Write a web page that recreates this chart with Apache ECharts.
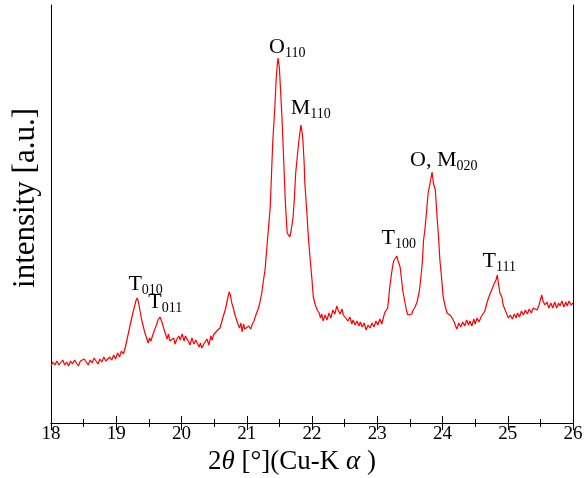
<!DOCTYPE html>
<html>
<head>
<meta charset="utf-8">
<script src="https://cdn.jsdelivr.net/npm/echarts@6/dist/echarts.min.js"></script>
<style>
  html, body { margin: 0; padding: 0; background: #fff; }
  #chart { width: 586px; height: 478px; }
</style>
</head>
<body>
<div id="chart"></div>
<script>
// 2theta [deg] and intensity [a.u.]
var twoTheta = [
  18.00, 18.03, 18.06, 18.09, 18.12, 18.15, 18.18, 18.21, 18.24, 18.27,
  18.30, 18.33, 18.36, 18.39, 18.42, 18.45, 18.48, 18.51, 18.54, 18.57,
  18.60, 18.63, 18.66, 18.69, 18.72, 18.75, 18.78, 18.81, 18.84, 18.87,
  18.90, 18.93, 18.96, 18.99, 19.02, 19.05, 19.08, 19.11, 19.14, 19.18,
  19.21, 19.24, 19.27, 19.30, 19.32, 19.34, 19.37, 19.39, 19.42, 19.44,
  19.47, 19.49, 19.51, 19.53, 19.55, 19.58, 19.61, 19.64, 19.67, 19.70,
  19.73, 19.75, 19.78, 19.80, 19.82, 19.85, 19.88, 19.90, 19.93, 19.96,
  19.98, 20.01, 20.04, 20.06, 20.08, 20.11, 20.13, 20.16, 20.19, 20.22,
  20.24, 20.27, 20.29, 20.31, 20.33, 20.36, 20.39, 20.42, 20.45, 20.47,
  20.49, 20.51, 20.54, 20.57, 20.59, 20.62, 20.65, 20.67, 20.70, 20.73,
  20.75, 20.77, 20.79, 20.82, 20.85, 20.87, 20.89, 20.91, 20.93, 20.95,
  20.97, 21.00, 21.03, 21.06, 21.08, 21.11, 21.14, 21.16, 21.18, 21.20,
  21.23, 21.25, 21.28, 21.32, 21.36, 21.38, 21.40, 21.43, 21.45, 21.47,
  21.48, 21.50, 21.51, 21.54, 21.56, 21.58, 21.59, 21.61, 21.62, 21.64,
  21.66, 21.68, 21.71, 21.73, 21.75, 21.78, 21.80, 21.83, 21.85, 21.86,
  21.88, 21.89, 21.92, 21.94, 21.97, 22.00, 22.02, 22.05, 22.08, 22.11,
  22.13, 22.15, 22.17, 22.20, 22.23, 22.26, 22.29, 22.32, 22.35, 22.38,
  22.40, 22.43, 22.46, 22.48, 22.51, 22.55, 22.58, 22.61, 22.63, 22.66,
  22.69, 22.72, 22.74, 22.77, 22.80, 22.83, 22.86, 22.89, 22.92, 22.95,
  22.98, 23.01, 23.04, 23.07, 23.10, 23.12, 23.14, 23.16, 23.19, 23.22,
  23.25, 23.27, 23.30, 23.32, 23.35, 23.37, 23.39, 23.42, 23.45, 23.47,
  23.50, 23.53, 23.55, 23.58, 23.61, 23.64, 23.66, 23.69, 23.71, 23.73,
  23.76, 23.78, 23.81, 23.84, 23.86, 23.89, 23.92, 23.94, 23.96, 23.99,
  24.01, 24.04, 24.07, 24.10, 24.13, 24.15, 24.18, 24.20, 24.22, 24.25,
  24.28, 24.31, 24.34, 24.37, 24.40, 24.42, 24.45, 24.48, 24.50, 24.53,
  24.56, 24.59, 24.62, 24.65, 24.68, 24.71, 24.74, 24.76, 24.79, 24.82,
  24.84, 24.86, 24.88, 24.91, 24.93, 24.96, 24.99, 25.01, 25.04, 25.07,
  25.10, 25.13, 25.15, 25.18, 25.21, 25.24, 25.27, 25.30, 25.33, 25.36,
  25.39, 25.42, 25.45, 25.48, 25.51, 25.52, 25.54, 25.57, 25.60, 25.63,
  25.66, 25.69, 25.72, 25.75, 25.78, 25.80, 25.83, 25.86, 25.89, 25.91,
  25.94, 25.97, 26.00
];
var intensity = [
  57, 61, 58, 62, 58, 60, 63, 58, 61, 57,
  62, 59, 63, 60, 57, 62, 60, 64, 61, 58,
  63, 60, 65, 62, 59, 64, 61, 66, 62, 60,
  66, 63, 68, 64, 70, 66, 72, 69, 76, 88,
  97, 106, 114, 122, 125, 121, 110, 103, 95, 90,
  84, 80, 85, 82, 86, 92, 97, 103, 106, 101,
  94, 90, 84, 89, 82, 80, 85, 79, 84, 87,
  83, 89, 82, 87, 86, 81, 78, 85, 79, 83,
  80, 76, 80, 75, 74, 81, 84, 78, 87, 83,
  88, 90, 92, 92, 95, 102, 109, 113, 122, 131,
  128, 120, 116, 108, 102, 98, 95, 100, 91, 99,
  94, 93, 97, 94, 98, 102, 108, 110, 115, 120,
  130, 140, 153, 185, 216, 250, 283, 315, 343, 360,
  365, 355, 343, 305, 273, 240, 223, 200, 190, 189,
  186, 192, 206, 225, 250, 270, 283, 298, 290, 283,
  260, 240, 212, 190, 165, 143, 126, 118, 113, 110,
  105, 109, 102, 108, 103, 110, 105, 113, 109, 117,
  113, 109, 114, 108, 107, 102, 106, 99, 103, 98,
  102, 97, 101, 96, 100, 93, 98, 95, 100, 96,
  102, 98, 104, 99, 107, 111, 112, 115, 135, 150,
  162, 163, 167, 162, 156, 145, 133, 122, 112, 108,
  110, 109, 113, 116, 121, 130, 140, 160, 183, 193,
  215, 230, 240, 251, 240, 233, 203, 185, 163, 142,
  126, 117, 110, 108, 107, 106, 101, 97, 94, 100,
  96, 101, 97, 103, 98, 102, 97, 104, 99, 105,
  101, 106, 105, 112, 120, 126, 131, 134, 139, 143,
  148, 138, 130, 126, 118, 113, 108, 105, 108, 104,
  109, 105, 110, 106, 112, 108, 113, 109, 114, 110,
  115, 117, 113, 118, 120, 128, 122, 118, 121, 115,
  120, 115, 121, 115, 120, 117, 122, 116, 121, 117,
  122, 118, 120
];

// peak labels: main letter, subscript, anchor (2theta, intensity)
var peakNames = ['T', 'T', 'O', 'M', 'T', 'O, M', 'T'];
var peakSubs = ['010', '011', '110', '110', '100', '020', '111'];
var peakX = [19.45, 19.75, 21.62, 21.98, 23.33, 24.02, 24.87];
var peakY = [126, 108, 363, 302, 172, 250, 149];

var xTicks = [18, 19, 20, 21, 22, 23, 24, 25, 26];

var serif = '"Liberation Serif", "DejaVu Serif", serif';

var curve = [];
for (var i = 0; i < twoTheta.length; i++) {
  curve.push([twoTheta[i], intensity[i]]);
}
var peaks = [];
for (var j = 0; j < peakNames.length; j++) {
  peaks.push({ value: [peakX[j], peakY[j]], main: peakNames[j], sub: peakSubs[j] });
}

var chart = echarts.init(document.getElementById('chart'));
var option = {
  animation: false,
  backgroundColor: '#fff',
  grid: { left: 51, right: 13, top: 5, bottom: 55, outerBoundsMode: 'none', containLabel: false },
  xAxis: [
    {
      type: 'value',
      min: xTicks[0],
      max: xTicks[xTicks.length - 1],
      interval: 1,
      position: 'bottom',
      axisLine: { lineStyle: { color: '#000', width: 1 } },
      axisTick: { inside: true, length: 7, lineStyle: { color: '#000' } },
      minorTick: { show: true, splitNumber: 2, length: 4, lineStyle: { color: '#000' } },
      splitLine: { show: false },
      axisLabel: { color: '#000', fontFamily: serif, fontSize: 19, margin: 2 },
      name: '{n|2}{i|θ}{n| [°](Cu-K }{i|α}{n| )}',
      nameLocation: 'middle',
      nameGap: 25,
      nameTextStyle: {
        padding: [0, 40, 0, 0],
        rich: {
          n: { fontFamily: serif, fontSize: 27, color: '#000' },
          i: { fontFamily: serif, fontSize: 27, fontStyle: 'italic', color: '#000' }
        }
      }
    },
    {
      type: 'value',
      min: xTicks[0],
      max: xTicks[xTicks.length - 1],
      interval: 1,
      position: 'top',
      axisLine: { lineStyle: { color: '#000', width: 1 } },
      axisTick: { inside: true, length: 7, lineStyle: { color: '#000' } },
      minorTick: { show: true, splitNumber: 2, length: 4, lineStyle: { color: '#000' } },
      splitLine: { show: false },
      axisLabel: { show: false }
    }
  ],
  yAxis: [
    {
      type: 'value',
      min: 0,
      max: 418,
      position: 'left',
      axisLine: { show: true, lineStyle: { color: '#000', width: 1 } },
      axisTick: { show: false },
      axisLabel: { show: false },
      splitLine: { show: false },
      name: 'intensity [a.u.]',
      nameLocation: 'middle',
      nameGap: 10,
      nameRotate: 90,
      nameTextStyle: {
        fontFamily: serif,
        fontSize: 31,
        color: '#000',
        padding: [0, 0, 0, 32]
      }
    },
    {
      type: 'value',
      min: 0,
      max: 418,
      position: 'right',
      axisLine: { show: true, lineStyle: { color: '#000', width: 1 } },
      axisTick: { show: false },
      axisLabel: { show: false },
      splitLine: { show: false }
    }
  ],
  series: [
    {
      type: 'line',
      data: curve,
      showSymbol: false,
      symbol: 'none',
      lineStyle: { color: '#ff0000', width: 1.2 },
      z: 3
    },
    {
      type: 'scatter',
      data: peaks,
      symbolSize: 0,
      silent: true,
      itemStyle: { opacity: 1 },
      z: 5,
      label: {
        show: true,
        position: 'top',
        distance: 0,
        color: '#000',
        opacity: 1,
        formatter: function (p) {
          return '{m|' + p.data.main + '}{s|' + p.data.sub + '}';
        },
        rich: {
          m: { fontFamily: serif, fontSize: 22, color: '#000', lineHeight: 24, verticalAlign: 'top' },
          s: { fontFamily: serif, fontSize: 14, color: '#000', lineHeight: 14, verticalAlign: 'bottom' }
        }
      }
    }
  ]
};
chart.setOption(option);
window.addEventListener('resize', function () {
  chart.resize();
});
</script>
</body>
</html>
